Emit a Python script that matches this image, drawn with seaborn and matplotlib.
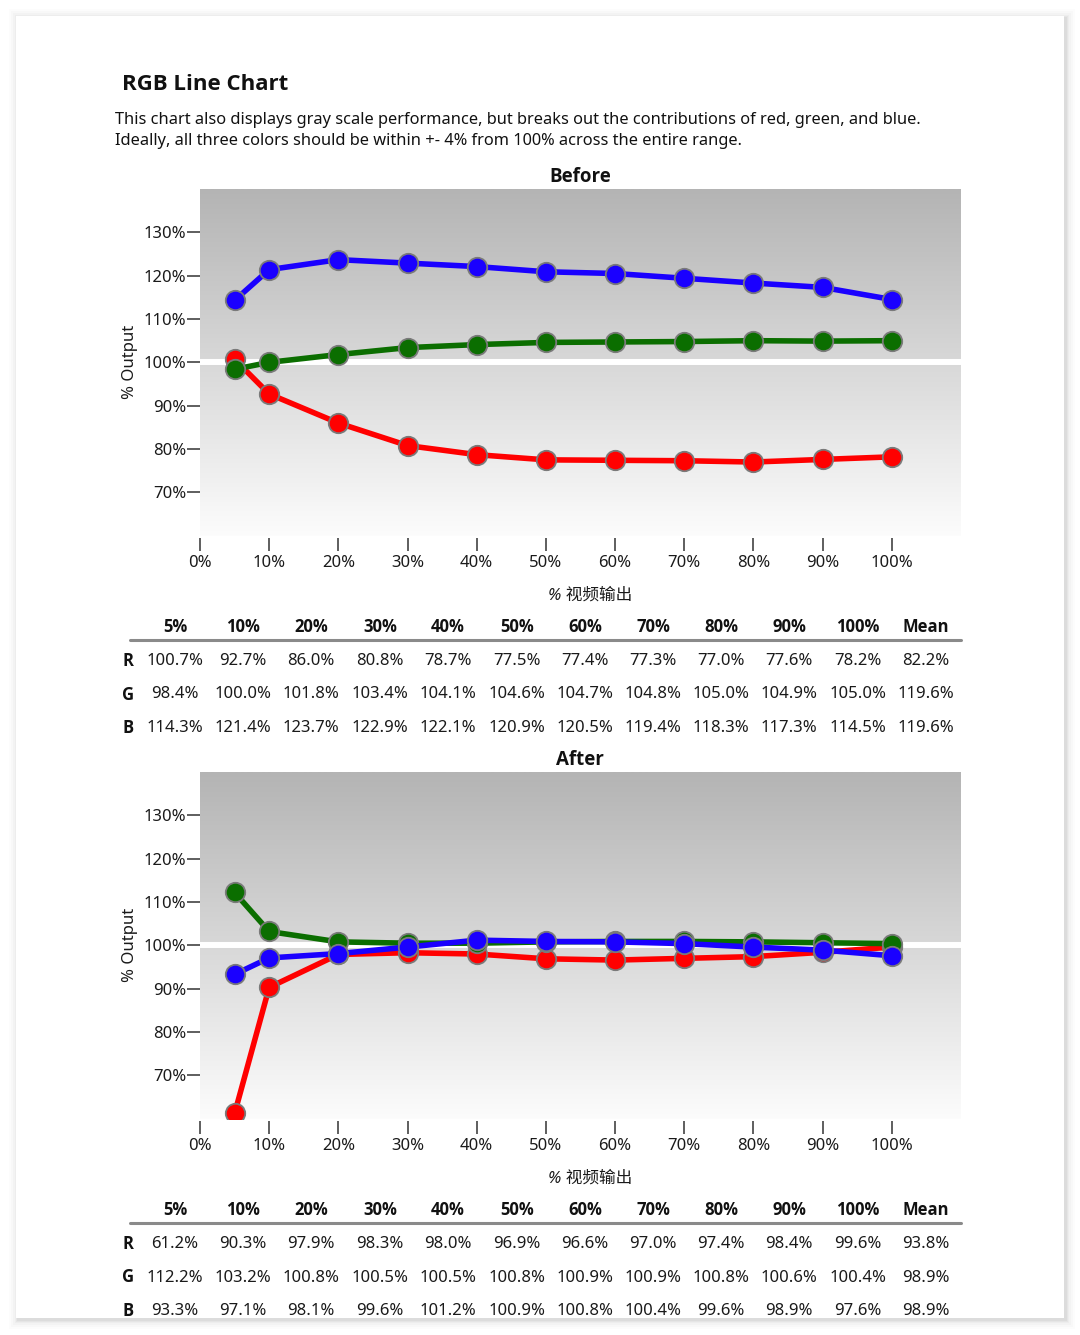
import matplotlib
matplotlib.use('Agg')
import matplotlib.pyplot as plt
from matplotlib import font_manager
from matplotlib.colors import LinearSegmentedColormap
from matplotlib.patches import Rectangle
from matplotlib.lines import Line2D
import numpy as np
import pandas as pd
import seaborn as sns

sns.set_theme(style='white')
plt.rcParams['font.family'] = ['Noto Sans', 'Noto Sans CJK SC', 'DejaVu Sans']

W, H = 1080, 1335

levels = [5, 10, 20, 30, 40, 50, 60, 70, 80, 90, 100]
col_labels = ['5%', '10%', '20%', '30%', '40%', '50%', '60%', '70%', '80%', '90%', '100%', 'Mean']

before_r = [100.7, 92.7, 86.0, 80.8, 78.7, 77.5, 77.4, 77.3, 77.0, 77.6, 78.2]
before_g = [98.4, 100.0, 101.8, 103.4, 104.1, 104.6, 104.7, 104.8, 105.0, 104.9, 105.0]
before_b = [114.3, 121.4, 123.7, 122.9, 122.1, 120.9, 120.5, 119.4, 118.3, 117.3, 114.5]
before_mean = {'R': 82.2, 'G': 119.6, 'B': 119.6}

after_r = [61.2, 90.3, 97.9, 98.3, 98.0, 96.9, 96.6, 97.0, 97.4, 98.4, 99.6]
after_g = [112.2, 103.2, 100.8, 100.5, 100.5, 100.8, 100.9, 100.9, 100.8, 100.6, 100.4]
after_b = [93.3, 97.1, 98.1, 99.6, 101.2, 100.9, 100.8, 100.4, 99.6, 98.9, 97.6]
after_mean = {'R': 93.8, 'G': 98.9, 'B': 98.9}

palette = {'R': '#ff0000', 'G': '#0b6e00', 'B': '#1a00ff'}
col_x = [175, 243, 311, 380, 448, 517, 585, 653, 721, 789, 858, 926]


def pick_bold_family():
    # use the first installed family that really has a bold face
    for fam in ['Noto Sans', 'Open Sans', 'Lato', 'Roboto', 'Liberation Sans']:
        try:
            path = font_manager.findfont(font_manager.FontProperties(family=fam, weight='bold'),
                                         fallback_to_default=False)
        except Exception:
            continue
        if 'bold' in path.lower():
            return fam
    return 'DejaVu Sans'


BOLD = [pick_bold_family(), 'DejaVu Sans']

fig = plt.figure(figsize=(W / 100, H / 100), dpi=100)
fig.patch.set_facecolor('white')


def fx(px):
    return px / W


def fy(py):
    return 1 - py / H


# page with soft shadow
for d, a in zip([9, 7, 5, 3, 2, 1], [0.012, 0.015, 0.02, 0.025, 0.03, 0.04]):
    fig.patches.append(Rectangle((fx(16 - d + 2), fy(1318 + d + 2)), fx(1048 + 2 * d), (1302 + 2 * d) / H,
                                 transform=fig.transFigure, facecolor='#000000', alpha=a,
                                 edgecolor='none', zorder=-3))
fig.patches.append(Rectangle((fx(16), fy(1318)), fx(1048), 1302 / H, transform=fig.transFigure,
                             facecolor='white', edgecolor='none', zorder=-2))

fig.text(fx(122), fy(85), 'RGB Line Chart', fontsize=16, fontweight='bold', family=BOLD,
         va='center', ha='left', color='#111111')
fig.text(fx(115), fy(120), 'This chart also displays gray scale performance, but breaks out the '
         'contributions of red, green, and blue.', fontsize=11.8, va='center', ha='left',
         color='#111111')
fig.text(fx(115), fy(141), 'Ideally, all three colors should be within +- 4% from 100% across the '
         'entire range.', fontsize=11.8, va='center', ha='left', color='#111111')

grad_cmap = LinearSegmentedColormap.from_list('bg', ['#fcfcfc', '#b4b4b4'])


def rgb_panel(top, title, r, g, b, mean):
    # top = pixel y of the 140% edge of the plot area
    ax = fig.add_axes([fx(200), fy(top + 346.7), fx(761), 346.7 / H])
    ax.imshow(np.linspace(0, 1, 256).reshape(-1, 1), extent=[0, 110, 60, 140], origin='lower',
              aspect='auto', cmap=grad_cmap, zorder=0)
    ax.axhline(100, color='white', lw=4.3, zorder=1)
    df = pd.DataFrame({'level': levels * 3,
                       'value': r + g + b,
                       'ch': ['R'] * 11 + ['G'] * 11 + ['B'] * 11})
    sns.lineplot(data=df, x='level', y='value', hue='ch', palette=palette, ax=ax,
                 marker='o', markersize=14, markeredgecolor='#7a7a7a', markeredgewidth=1.3,
                 linewidth=4, legend=False, zorder=3)
    ax.set_xlim(0, 110)
    ax.set_ylim(60, 140)
    ax.set_xticks(range(0, 101, 10))
    ax.set_xticklabels(['{}%'.format(v) for v in range(0, 101, 10)])
    ax.set_yticks(range(70, 131, 10))
    ax.set_yticklabels(['{}%'.format(v) for v in range(70, 131, 10)])
    for s in ax.spines.values():
        s.set_visible(False)
    ax.spines['bottom'].set_position(('outward', 1.5))
    ax.tick_params(axis='x', bottom=True, direction='out', length=9, width=1.1, color='#333333',
                   pad=3.5, labelsize=12, labelcolor='#1a1a1a')
    ax.tick_params(axis='y', left=True, direction='out', length=9.5, width=1.1, color='#333333',
                   pad=0.5, labelsize=12, labelcolor='#1a1a1a')
    ax.set_xlabel('')
    ax.set_ylabel('')
    fig.text(fx(580), fy(top - 12), title, fontsize=13.5, fontweight='bold', family=BOLD,
             ha='center', va='center', color='#111111')
    fig.text(fx(130), fy(top + 173), '% Output', fontsize=12, rotation=90, ha='center', va='center',
             color='#1a1a1a')
    fig.text(fx(590), fy(top + 407), '% 视频输出', fontsize=12, style='italic', ha='center',
             va='center', color='#1a1a1a')

    # table under the chart
    t0 = top + 438
    for x, lab in zip(col_x, col_labels):
        fig.text(fx(x), fy(t0), lab, fontsize=12, fontweight='bold', family=BOLD,
                 ha='center', va='center', color='#111111')
    fig.add_artist(Line2D([fx(130), fx(961)], [fy(t0 + 13), fy(t0 + 13)], color='#8a8a8a', lw=2.2,
                          transform=fig.transFigure))
    for i, (name, vals) in enumerate([('R', r), ('G', g), ('B', b)]):
        yy = t0 + 34 + 33.5 * i
        fig.text(fx(128), fy(yy), name, fontsize=12, fontweight='bold', family=BOLD,
                 ha='center', va='center', color='#111111')
        for x, v in zip(col_x, vals + [mean[name]]):
            fig.text(fx(x), fy(yy), '{:.1f}%'.format(v), fontsize=12, ha='center', va='center',
                     color='#1a1a1a')
    return ax


rgb_panel(189, 'Before', before_r, before_g, before_b, before_mean)
rgb_panel(772, 'After', after_r, after_g, after_b, after_mean)

fig.savefig('out.png', dpi=100)
